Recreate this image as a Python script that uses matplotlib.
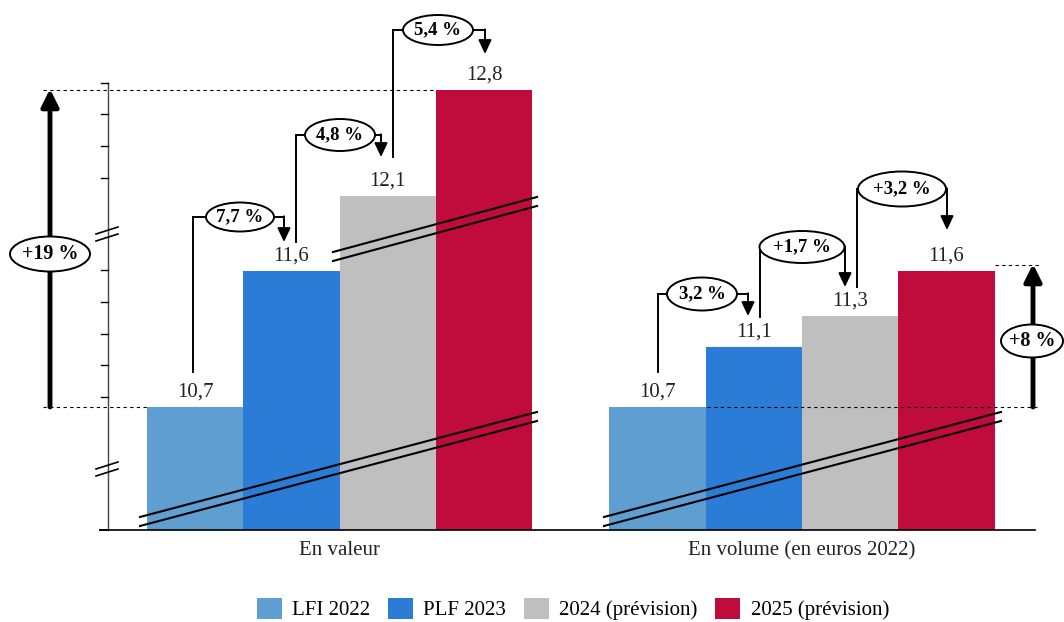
import matplotlib.pyplot as plt
from matplotlib.patches import Ellipse, Patch, FancyArrowPatch
from matplotlib.lines import Line2D
from matplotlib.transforms import Affine2D

plt.rcParams['font.family'] = ['Liberation Serif', 'DejaVu Serif']

# --- data ---
groups = ["En valeur", "En volume (en euros 2022)"]
series = ["LFI 2022", "PLF 2023", "2024 (prévision)", "2025 (prévision)"]
valeur = [10.7, 11.6, 12.1, 12.8]
volume = [10.7, 11.1, 11.3, 11.6]
value_labels = [["10,7", "11,6", "12,1", "12,8"], ["10,7", "11,1", "11,3", "11,6"]]
step_labels = ["7,7 %", "4,8 %", "5,4 %", "3,2 %", "+1,7 %", "+3,2 %"]
total_labels = ["+19 %", "+8 %"]
colors = ["#5f9ed1", "#2b7cd6", "#bfbfbf", "#c00c3c"]

# --- figure / scales ---
W, H = 1064, 622
fig = plt.figure(figsize=(W / 100, H / 100), dpi=100)
px = Affine2D().scale(1 / W, -1 / H).translate(0, 1) + fig.transFigure

base = 9.885      # value at the bottom line
kpx = 151.0       # pixels per unit
gx0, gpx = 339.5, 462.5  # first group centre, distance between groups
ybot = 530
ax = fig.add_axes([0, 0, 1, 1])
ax.set_xlim(-gx0 / gpx, (W - gx0) / gpx)
ax.set_ylim(base - (H - ybot) / kpx, base + ybot / kpx)
ax.axis("off")

w = 96.3 / gpx
for g, vals in enumerate([valeur, volume]):
    for i, v in enumerate(vals):
        x = g + (i - 1.5) * w
        ax.bar(x, v - base, bottom=base, width=w, color=colors[i], linewidth=0)
        ax.annotate(value_labels[g][i], (x, v), xytext=(0, 7.5), textcoords="offset points",
                    ha="center", va="baseline", fontsize=15, color="#222222")
    ax.annotate(groups[g], (g, base), xytext=(0, -8), textcoords="offset points",
                ha="center", va="top", fontsize=15, color="#222222")


def seg(p, q, **kw):
    kw.setdefault("color", "black")
    kw.setdefault("lw", 1.4)
    fig.add_artist(Line2D([p[0], q[0]], [p[1], q[1]], transform=px, **kw))


def arrow(p, q, lw=1.4, ms=12, hl=0.7, hw=0.33):
    fig.add_artist(FancyArrowPatch(p, q, transform=px, color="black", lw=lw,
                                   arrowstyle=f"-|>,head_length={hl},head_width={hw}",
                                   mutation_scale=ms, shrinkA=0, shrinkB=0))


def bubble(cx, cy, bw, bh, text, fs=13.5):
    fig.add_artist(Ellipse((cx, cy), bw, bh, transform=px, facecolor="white",
                           edgecolor="black", lw=1.4, zorder=5))
    fig.text(cx / W, 1 - cy / H, text, ha="center", va="center", fontsize=fs,
             fontweight="bold", zorder=6)


# left axis with ticks and breaks
seg((108, 83), (108, ybot), lw=1.0, color="#444444")
seg((100, ybot), (1035, ybot), lw=1.2)
for ty in [83, 114, 146, 178, 270, 302, 334, 365, 397]:
    seg((101, ty), (108, ty), lw=1.0)
seg((100, ybot), (108, ybot), lw=1.4)
for by in [234, 469]:
    seg((96, by), (118, by - 7), lw=1.2)
    seg((96, by + 7), (118, by), lw=1.2)

# break lines across bars
for (x0, y0, x1, y1) in [(140, 517, 537, 412), (333, 252, 537, 197), (604, 517, 1001, 412)]:
    seg((x0, y0), (x1, y1), lw=1.5)
    seg((x0, y0 + 9), (x1, y1 + 9), lw=1.5)

# dashed reference lines
for (x0, x1, y) in [(43, 436, 90), (43, 147, 407), (707, 1040, 407), (995, 1040, 265)]:
    seg((x0, y), (x1, y), lw=0.8, ls=(0, (3, 3)))

# step callouts: vertical x, start y, top y, ellipse (cx, cy, w, h), arrow x, arrow end y
callouts = [
    (193, 372, 217, (240, 217, 68, 29), 284, 242),
    (296, 242, 135, (340, 135, 70, 32), 381, 157),
    (393, 157, 30, (438, 30, 70, 30), 485, 54),
    (658, 372, 294, (702, 294, 70, 33), 748, 316),
    (760, 317, 247, (802, 247, 85, 32), 845, 287),
    (857, 287, 189, (902, 189, 88, 35), 947, 230),
]
for (vx, y0, yt, (cx, cy, bw, bh), axx, ye), lab in zip(callouts, step_labels):
    seg((vx, y0), (vx, yt))
    seg((vx, yt), (cx - bw / 2, yt))
    seg((cx + bw / 2, yt), (axx, yt))
    arrow((axx, yt - 0.7), (axx, ye))
    bubble(cx, cy, bw, bh, lab)

# total change arrows
arrow((50, 407), (50, 89), lw=3.5, ms=13, hl=0.8, hw=0.4)
bubble(50, 254, 80, 35, total_labels[0], fs=14.5)
arrow((1033, 407), (1033, 264), lw=3.5, ms=13, hl=0.8, hw=0.4)
bubble(1032, 341, 62, 33, total_labels[1], fs=14.5)

handles = [Patch(facecolor=c, label=s) for c, s in zip(colors, series)]
fig.legend(handles=handles, loc="center", bbox_to_anchor=(573 / W, 1 - 609 / H), ncol=4,
           frameon=False, fontsize=15, handlelength=1.2, handleheight=1.2,
           columnspacing=0.85, handletextpad=0.5)

fig.savefig("out.png", dpi=100)
